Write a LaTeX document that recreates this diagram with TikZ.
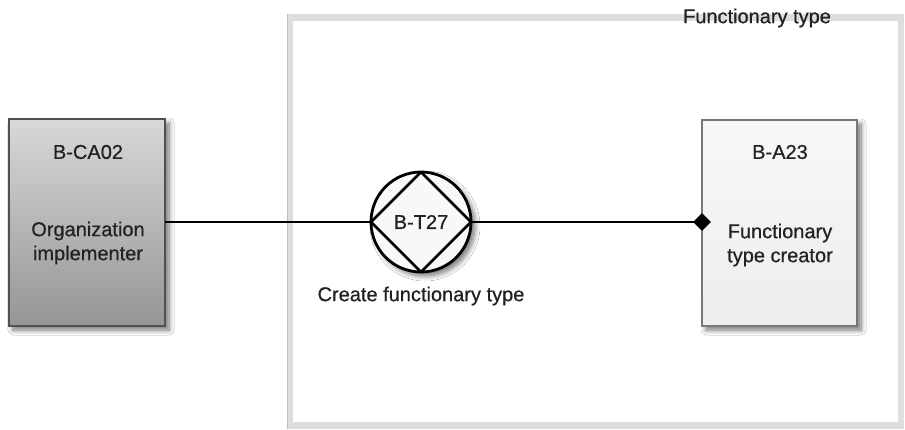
\documentclass[tikz,border=0pt]{standalone}
\usepackage{fontspec}
\setmainfont{Liberation Sans}
\newfontfamily\lblfont[FakeBold=0.6]{Liberation Sans}
\usetikzlibrary{shapes.geometric,shadows.blur,calc}
\definecolor{frameband}{HTML}{DEDEDE}
\definecolor{txt}{HTML}{222222}
\definecolor{actdark}{HTML}{505050}
\definecolor{acttop}{HTML}{D8D8D8}
\definecolor{actbot}{HTML}{959595}
\definecolor{eltop}{HTML}{F8F8F8}
\definecolor{elbot}{HTML}{EDEDED}
\definecolor{elborder}{HTML}{777777}
\tikzset{
  lbl/.style={font=\lblfont\fontsize{20}{24}\selectfont, text=txt, align=center, inner sep=0pt},
  shd/.style={blur shadow={shadow xshift=4pt, shadow yshift=-4pt, shadow blur steps=8, shadow blur radius=5pt, shadow opacity=55}},
  actorbox/.style={draw=actdark, line width=2.5pt, top color=acttop, bottom color=actbot, shd},
  elembox/.style={draw=elborder, line width=2.8pt, top color=eltop, bottom color=elbot, shd},
  conn/.style={draw=black, line width=2.8pt},
}
\begin{document}
\begin{tikzpicture}[x=1pt,y=-1pt]
\useasboundingbox (0,0) rectangle (905,429);
\fill[white] (0,0) rectangle (905,429);
% scope frame
\fill[frameband] (287,14) rectangle (904,429);
\fill[white] (293,21) rectangle (898,422);
\draw[black!25, line width=0.8pt] (287.4,14.4) -- (287.4,428.6);
\node[lbl] (title) at (757,18) {Functionary type};
% actor box
\path[actorbox] (9,119) rectangle (165,326);
\coordinate (ca) at (165,222);
\node[lbl] (caid) at (88,152) {B-CA02};
\node[lbl] (caname) at (88,243) {Organization\\implementer};
% elementary actor box
\path[elembox] (702,120) rectangle (857,326);
\coordinate (ea) at (702,222);
\node[lbl] (eaid) at (780,152) {B-A23};
\node[lbl] (eaname) at (780,245) {Functionary\\type creator};
% transaction
\node[circle, draw=black, line width=2.8pt, fill=eltop, minimum size=100pt, inner sep=0pt, shd] (t) at (421,222) {};
\draw[line width=2.6pt, line join=round] ($(t.center)+(0,-50)$) -- ($(t.center)+(50,0)$) -- ($(t.center)+(0,50)$) -- ($(t.center)+(-50,0)$) -- cycle;
\node[lbl] (tid) at (421,222) {B-T27};
\node[lbl] (tname) at (421,296) {Create functionary type};
% connectors
\draw[conn] (ca) -- (t.west);
\draw[conn] (t.east) -- (ea);
\node[diamond, fill=black, minimum width=18pt, minimum height=18pt, inner sep=0pt] (dm) at (ea) {};
\end{tikzpicture}
\end{document}
